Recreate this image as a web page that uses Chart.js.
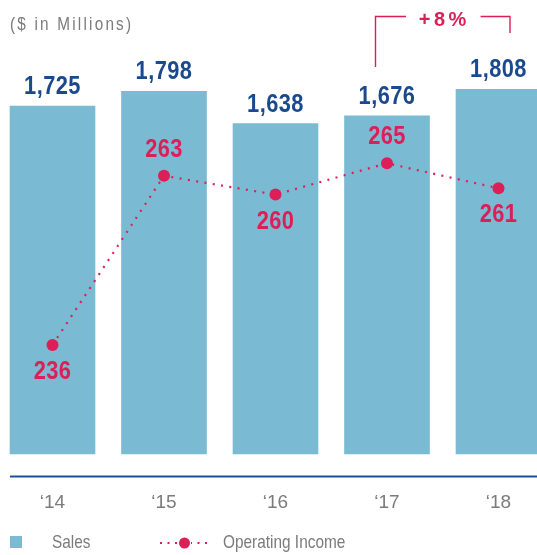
<!DOCTYPE html>
<html>
<head>
<meta charset="utf-8">
<script src="https://cdn.jsdelivr.net/npm/chart.js@4.4.1/dist/chart.umd.min.js"></script>
<style>
  html, body { margin: 0; padding: 0; background: #ffffff; }
  #wrap { width: 537px; height: 555px; position: relative; }
</style>
</head>
<body>
<div id="wrap"><canvas id="chart"></canvas></div>
<script>
// Fiscal years, net sales and operating income ($ in millions)
const years = ['\u201814', '\u201815', '\u201816', '\u201817', '\u201818'];
const sales = [1725, 1798, 1638, 1676, 1808];
const operatingIncome = [236, 263, 260, 265, 261];
const unitNote = '($ in Millions)';
const growthNote = '+8%';
const legendNames = ['Sales', 'Operating Income'];

const BAR_BLUE = '#7bbad3';
const NAVY = '#1a4a8d';
const CRIMSON = '#dc1f57';
const GREY = '#7b7b7b';
const SANS = '"Liberation Sans", Arial, sans-serif';

// Draws text squeezed horizontally to give a condensed face
function condensedText(ctx, text, x, y, squeeze) {
  ctx.save();
  ctx.translate(x, y);
  ctx.scale(squeeze, 1);
  ctx.fillText(text, 0, 0);
  ctx.restore();
}

// Value labels, the growth bracket, the unit note, the base rule and the legend
const annotate = {
  id: 'annotate',
  afterDatasetsDraw(chart) {
    const ctx = chart.ctx;
    const barMeta = chart.getDatasetMeta(1);
    const lineMeta = chart.getDatasetMeta(0);
    const yScale = chart.scales.y;

    ctx.save();
    // base rule under the bars
    const first = barMeta.data[0];
    const ruleY = yScale.bottom;
    ctx.strokeStyle = '#1d4f98';
    ctx.lineWidth = 2;
    ctx.beginPath();
    ctx.moveTo(first.x - first.width / 2, ruleY);
    ctx.lineTo(chart.width, ruleY);
    ctx.stroke();

    // sales values above bars
    ctx.textAlign = 'center';
    ctx.textBaseline = 'middle';
    ctx.fillStyle = NAVY;
    ctx.font = 'bold 26px ' + SANS;
    ctx.letterSpacing = '0.5px';
    barMeta.data.forEach((bar, i) => {
      condensedText(ctx, sales[i].toLocaleString('en-US'), bar.x, bar.y - 19, 0.84);
    });

    // operating income values: above when the year improved, below otherwise
    ctx.fillStyle = CRIMSON;
    lineMeta.data.forEach((pt, i) => {
      const rose = i > 0 && operatingIncome[i] > operatingIncome[i - 1];
      condensedText(ctx, String(operatingIncome[i]), pt.x, rose ? pt.y - 26 : pt.y + 27, 0.84);
    });

    // growth bracket spanning the last two years
    const b4 = barMeta.data[3], b5 = barMeta.data[4];
    const left = b4.x - 11.5, right = b5.x + 11.5, top = 16.5;
    ctx.font = 'bold 20px ' + SANS;
    ctx.letterSpacing = '3.5px';
    const mid = (left + right) / 2;
    const tw = ctx.measureText(growthNote).width - 3.5;
    ctx.fillText(growthNote, mid + 1.5, 20.5);
    ctx.strokeStyle = CRIMSON;
    ctx.lineWidth = 1.4;
    ctx.beginPath();
    ctx.moveTo(left, 67);
    ctx.lineTo(left, top);
    ctx.lineTo(mid - tw / 2 - 13, top);
    ctx.moveTo(mid + tw / 2 + 14, top);
    ctx.lineTo(right, top);
    ctx.lineTo(right, 33);
    ctx.stroke();

    // unit note
    ctx.letterSpacing = '2.6px';
    ctx.textAlign = 'left';
    ctx.fillStyle = GREY;
    ctx.font = '18px ' + SANS;
    condensedText(ctx, unitNote, 10, 25.5, 0.85);

    // legend
    ctx.letterSpacing = '0px';
    const ly = 543;
    ctx.fillStyle = BAR_BLUE;
    ctx.fillRect(10, 536, 12, 12);
    ctx.fillStyle = GREY;
    ctx.font = '19px ' + SANS;
    condensedText(ctx, legendNames[0], 52, ly, 0.81);
    ctx.strokeStyle = CRIMSON;
    ctx.lineWidth = 2.2;
    ctx.setLineDash([2, 5.5]);
    ctx.beginPath();
    ctx.moveTo(160, ly);
    ctx.lineTo(208, ly);
    ctx.stroke();
    ctx.setLineDash([]);
    ctx.fillStyle = '#ffffff';
    ctx.fillRect(178, ly - 7, 13, 14);
    ctx.fillStyle = CRIMSON;
    ctx.beginPath();
    ctx.arc(184.5, ly, 5.5, 0, Math.PI * 2);
    ctx.fill();
    ctx.fillStyle = GREY;
    condensedText(ctx, legendNames[1], 223, ly, 0.81);
    ctx.restore();
  }
};

new Chart(document.getElementById('chart'), {
  type: 'bar',
  data: {
    labels: years,
    datasets: [
      {
        type: 'line',
        label: legendNames[1],
        data: operatingIncome,
        yAxisID: 'y1',
        order: 0,
        borderColor: CRIMSON,
        borderWidth: 2.2,
        borderDash: [2, 6.4],
        borderCapStyle: 'butt',
        tension: 0,
        fill: false,
        pointRadius: 6,
        pointHoverRadius: 6,
        pointBorderWidth: 0,
        pointBackgroundColor: CRIMSON,
        clip: false
      },
      {
        type: 'bar',
        label: legendNames[0],
        data: sales,
        yAxisID: 'y',
        order: 1,
        backgroundColor: BAR_BLUE,
        barThickness: 85,
        borderWidth: 0,
        clip: false
      }
    ]
  },
  options: {
    responsive: true,
    maintainAspectRatio: false,
    animation: false,
    devicePixelRatio: 1,
    layout: { padding: { left: 52.5, right: 38.5, top: 50.5, bottom: 0 } },
    plugins: {
      legend: { display: false },
      title: { display: false },
      tooltip: { enabled: false }
    },
    scales: {
      x: {
        type: 'category',
        offset: false,
        grid: { display: false, drawTicks: false },
        border: { display: false },
        ticks: {
          color: GREY,
          font: { family: SANS, size: 19 },
          padding: 15,
          maxRotation: 0,
          autoSkip: false
        },
        afterFit(scale) { scale.height = 78.5; }
      },
      y: {
        display: false,
        min: -112,
        max: 2000
      },
      y1: {
        display: false,
        position: 'right',
        min: 215,
        max: 283
      }
    }
  },
  plugins: [annotate]
});
</script>
</body>
</html>
